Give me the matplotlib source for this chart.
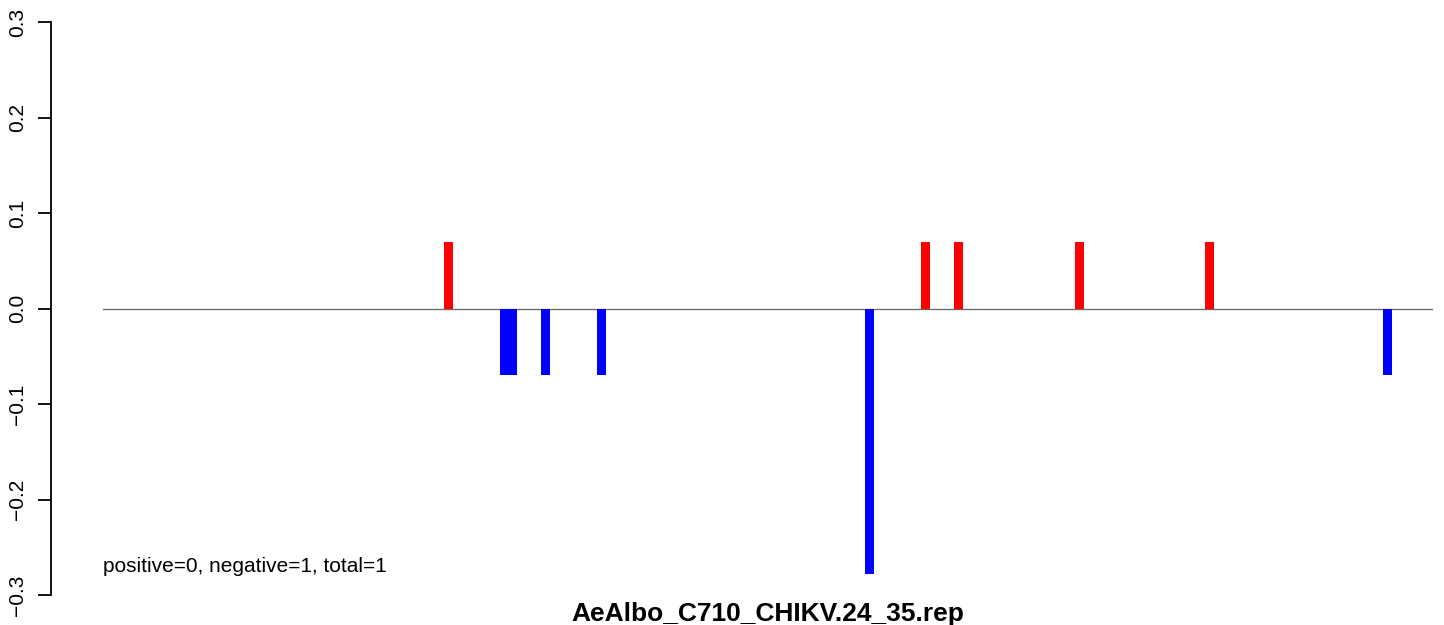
import matplotlib
matplotlib.use("Agg")
import matplotlib.pyplot as plt

plt.rcParams['font.family'] = ['Liberation Sans', 'DejaVu Sans']

title = "AeAlbo_C710_CHIKV.24_35.rep"
note = "positive=0, negative=1, total=1"

# site positions along the sequence and their scores
pos_positions = [345.5, 822.5, 855.5, 976.5, 1106.5]
pos_values = [0.07, 0.07, 0.07, 0.07, 0.07]
neg_positions = [401.5, 409.5, 442.5, 498.5, 766.5, 1284.5]
neg_values = [-0.07, -0.07, -0.07, -0.07, -0.278, -0.07]
seq_start, seq_end = 0, 1329
yticks = [-0.3, -0.2, -0.1, 0.0, 0.1, 0.2, 0.3]

W, H = 1444, 625
fig = plt.figure(figsize=(W / 100, H / 100), dpi=100)
ax = fig.add_axes([51 / W, (H - 595) / H, (W - 51) / W, (595 - 22) / H])
ax.set_xlim(-52, 1341)
ax.set_ylim(-0.3, 0.3)

ax.plot([seq_start, seq_end], [0, 0], color='#666666', lw=0.9, zorder=1)
ax.bar(pos_positions, pos_values, width=9, color='#ff0000', zorder=2)
ax.bar(neg_positions, neg_values, width=9, color='#0000ff', zorder=2)

for s in ['top', 'right', 'bottom']:
    ax.spines[s].set_visible(False)
ax.spines['left'].set_linewidth(1.3)
ax.set_xticks([])
ax.set_yticks(yticks)
ax.set_yticklabels([f"{v:.1f}".replace('-', '\u2212') for v in yticks],
                   rotation=90, va='center', fontsize=15)
ax.tick_params(axis='y', length=9.5, width=1.3, pad=8)

ax.text(0, -0.2757, note, fontsize=15, ha='left', va='baseline')
fig.text((51 + 1444 + 40) / 2 / W, (H - 621) / H, title, fontsize=19,
         fontweight='bold', ha='center', va='baseline')

fig.savefig("out.png", dpi=100)
